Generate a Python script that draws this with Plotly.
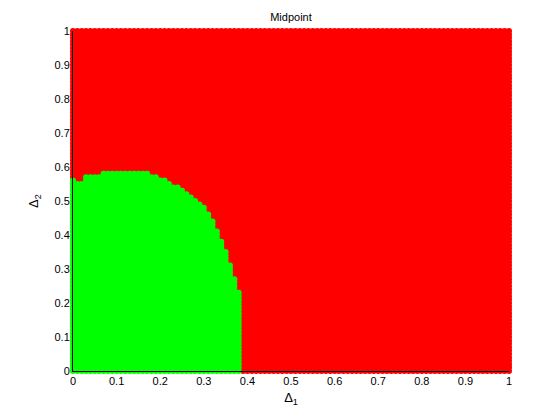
import numpy as np
import plotly.graph_objects as go

# grid of sampled (delta1, delta2) points, step 0.01
delta1_grid = np.round(np.arange(0, 1.0001, 0.01), 2)
delta2_grid = np.round(np.arange(0, 1.0001, 0.01), 2)

# top of the stable (green) region for each delta1 column 0.00 .. 0.38
stable_top = [0.56, 0.55, 0.55, 0.57, 0.57, 0.57, 0.57, 0.58, 0.58, 0.58,
              0.58, 0.58, 0.58, 0.58, 0.58, 0.58, 0.58, 0.58, 0.57, 0.57,
              0.56, 0.56, 0.55, 0.54, 0.54, 0.53, 0.52, 0.51, 0.50, 0.49,
              0.48, 0.46, 0.44, 0.41, 0.38, 0.35, 0.31, 0.27, 0.23]

xs_g, ys_g, xs_r, ys_r = [], [], [], []
for i, d1 in enumerate(delta1_grid):
    top = stable_top[i] if i < len(stable_top) else -1
    for d2 in delta2_grid:
        if d2 <= top + 1e-9:
            xs_g.append(d1); ys_g.append(d2)
        else:
            xs_r.append(d1); ys_r.append(d2)

fig = go.Figure()
fig.add_trace(go.Scatter(x=xs_r, y=ys_r, mode='markers', cliponaxis=False,
                         marker=dict(color='#FF0000', size=6, symbol='circle', line=dict(width=0)),
                         showlegend=False, hoverinfo='skip'))
fig.add_trace(go.Scatter(x=xs_g, y=ys_g, mode='markers', cliponaxis=False,
                         marker=dict(color='#00FF00', size=6, symbol='circle', line=dict(width=0)),
                         showlegend=False, hoverinfo='skip'))

ticks = [round(0.1 * k, 1) for k in range(11)]
ticktext = ['0', '0.1', '0.2', '0.3', '0.4', '0.5', '0.6', '0.7', '0.8', '0.9', '1']

# page body has an 8px margin, so the figure is 8px smaller and margins shifted
fig.update_layout(
    width=552, height=412,
    margin=dict(l=65, r=51, t=23, b=49),
    paper_bgcolor='white', plot_bgcolor='white',
    font=dict(family='Liberation Sans, Arial, sans-serif', size=11, color='black'),
    title=dict(text='Midpoint', x=0.5, xref='paper', y=1 - 9 / 412, yref='container',
               xanchor='center', yanchor='middle', font=dict(size=11)),
    xaxis=dict(range=[0, 1], tickvals=ticks, ticktext=ticktext, showgrid=False, zeroline=False,
               showline=True, linecolor='black', linewidth=1, mirror=False, ticks='',
               title=dict(text='Δ<sub>1</sub>', standoff=6)),
    yaxis=dict(range=[0, 1], tickvals=ticks, ticktext=ticktext, showgrid=False, zeroline=False,
               showline=True, linecolor='black', linewidth=1, mirror=False, ticks='',
               title=dict(text='Δ<sub>2</sub>', standoff=12)),
)

fig.write_html("out.html")
